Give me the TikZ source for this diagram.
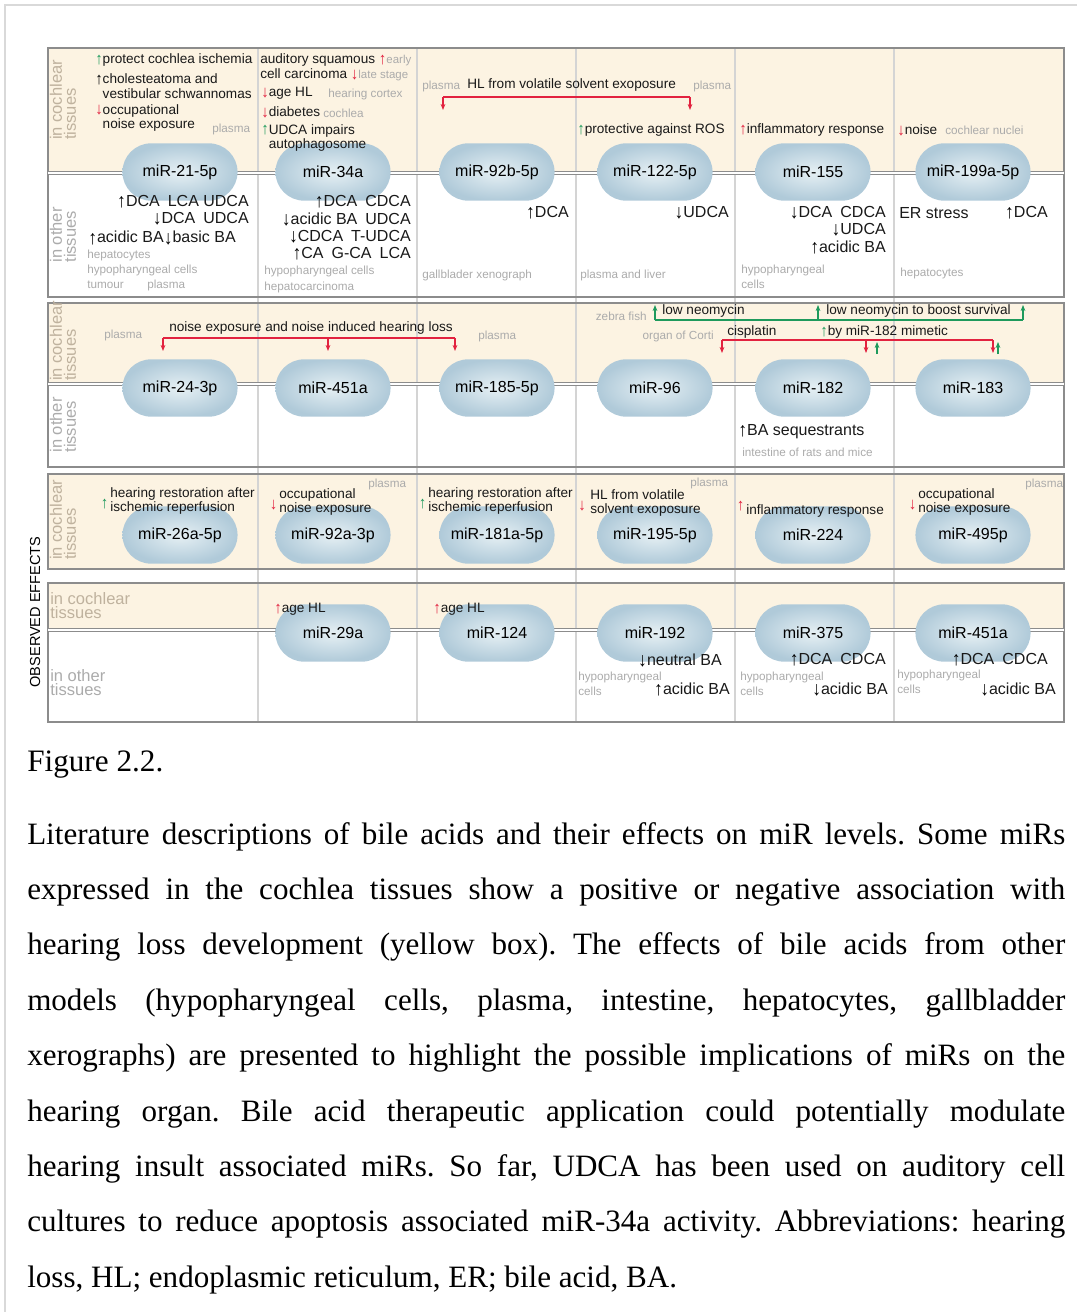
\documentclass[tikz,border=0pt]{standalone}
\usepackage{fontspec}
\setmainfont{Liberation Serif}
\setsansfont{Liberation Sans}
\usepackage{xcolor}
\usepackage{tikz}
\usetikzlibrary{arrows.meta,positioning,shapes.misc}
\definecolor{bandyel}{HTML}{FCF3E2}
\definecolor{frame}{HTML}{8C8C8C}
\definecolor{divid}{HTML}{D4D4D4}
\definecolor{upgrn}{HTML}{1E9A5C}
\definecolor{dnred}{HTML}{E2223F}
\definecolor{note}{HTML}{ABABAB}
\definecolor{tanlab}{HTML}{BFB29E}
\definecolor{pillin}{HTML}{E6F0F4}
\definecolor{pillout}{HTML}{B0CAD9}
\newcommand{\ua}[1][black]{\textcolor{#1}{\raisebox{-0.12ex}{\scalebox{1.1}[1.22]{↑}}}}
\newcommand{\da}[1][black]{\textcolor{#1}{\raisebox{-0.12ex}{\scalebox{1.1}[1.22]{↓}}}}
\newcommand{\srcin}[1]{{\color{note}\fontsize{8.6}{10}\selectfont #1}}

\begin{document}
\begin{tikzpicture}[
  x=0.75pt, y=-0.75pt,
  eff/.style={font=\sffamily\fontsize{10.2}{11.2}\selectfont, inner sep=0pt, align=left, text=black!90},
  ba/.style={font=\sffamily\fontsize{12}{13}\selectfont, inner sep=0pt, text=black!90},
  src/.style={font=\sffamily\fontsize{8.8}{11}\selectfont, inner sep=0pt, align=left, text=note},
  tis/.style={font=\sffamily\fontsize{12.4}{10.6}\selectfont, inner sep=0pt, align=left},
  mir/.style={rounded rectangle, minimum width=93pt, minimum height=43pt, inner color=pillin, outer color=pillout, font=\sffamily\fontsize{12}{14}\selectfont},
  grp/.style={draw=frame, line width=1.1pt},
  sep/.style={draw=frame, line width=0.6pt, double=white, double distance=1.5pt},
  rln/.style={dnred, line width=0.8pt},
  gln/.style={upgrn, line width=0.8pt},
  rarr/.style={rln, -{Stealth[length=4.5pt, width=3.5pt]}},
  garr/.style={gln, -{Stealth[length=4.5pt, width=3.5pt]}}
]
\useasboundingbox (0,0) rectangle (1077,1312);
\draw[black!15, line width=1pt] (5,1312) -- (5,5) -- (1077,5);

\fill[bandyel] (48,48) rectangle (1064,173);
\fill[bandyel] (48,303) rectangle (1064,384);
\fill[bandyel] (48,474) rectangle (1064,569);
\fill[bandyel] (48,583) rectangle (1064,630);
\foreach \x in {258,417,576,735,894}
  \draw[divid, line width=0.8pt] (\x,48) -- (\x,722);
\draw[grp] (48,48) rectangle (1064,297);
\draw[grp] (48,303) rectangle (1064,467);
\draw[grp] (48,474) rectangle (1064,569);
\draw[grp] (48,583) rectangle (1064,722);
\draw[sep] (48,173) -- (1064,173);
\draw[sep] (48,384) -- (1064,384);
\draw[sep] (48,630) -- (1064,630);

\node[font=\sffamily\fontsize{10.9}{12}\selectfont, rotate=90] (obs) at (35,612) {OBSERVED EFFECTS};
\node[tis, text=tanlab, rotate=90] (t1a) at (63,100) {in cochlear\\tissues};
\node[tis, text=note, rotate=90] (t1b) at (63,235) {in other\\tissues};
\node[tis, text=tanlab, rotate=90] (t2a) at (63,341) {in cochlear\\tissues};
\node[tis, text=note, rotate=90] (t2b) at (63,425) {in other\\tissues};
\node[tis, text=tanlab, rotate=90] (t3a) at (63,520) {in cochlear\\tissues};
\node[tis, text=tanlab, anchor=west] (t4a) at (50,606) {in cochlear\\tissues};
\node[tis, text=note, anchor=west] (t4b) at (50,683) {in other\\tissues};

\node[mir] (m21) at (180,172) {miR-21-5p};
\node[mir] (m34) at (333,172) {miR-34a};
\node[mir] (m92b) at (497,172) {miR-92b-5p};
\node[mir] (m122) at (655,172) {miR-122-5p};
\node[mir] (m155) at (813,172) {miR-155};
\node[mir] (m199) at (973,172) {miR-199a-5p};
\node[mir] (m24) at (180,388) {miR-24-3p};
\node[mir] (m451) at (333,388) {miR-451a};
\node[mir] (m185) at (497,388) {miR-185-5p};
\node[mir] (m96) at (655,388) {miR-96};
\node[mir] (m182) at (813,388) {miR-182};
\node[mir] (m183) at (973,388) {miR-183};
\node[mir] (m26) at (180,535) {miR-26a-5p};
\node[mir] (m92a) at (333,535) {miR-92a-3p};
\node[mir] (m181) at (497,535) {miR-181a-5p};
\node[mir] (m195) at (655,535) {miR-195-5p};
\node[mir] (m224) at (813,535) {miR-224};
\node[mir] (m495) at (973,535) {miR-495p};
\node[mir] (m29) at (333,633) {miR-29a};
\node[mir] (m124) at (497,633) {miR-124};
\node[mir] (m192) at (655,633) {miR-192};
\node[mir] (m375) at (813,633) {miR-375};
\node[mir] (m451b) at (973,633) {miR-451a};

\node[eff, anchor=west] (pc) at (95,60) {\ua[upgrn]protect cochlea ischemia};
\node[eff, anchor=west] (ch) at (95,86) {\ua cholesteatoma and\\\hphantom{\ua}vestibular schwannomas};
\node[eff, anchor=west] (on1) at (95,118) {\da[dnred]occupational\\\hphantom{\da}noise exposure};
\node[src, anchor=west] (s1) at (212,129) {plasma};
\node[eff, anchor=west] (asc) at (260,67) {auditory squamous \ua[dnred]\srcin{early}\\cell carcinoma \da[dnred]\srcin{late stage}};
\node[eff, anchor=west] (ahl) at (261,93) {\da[dnred]age HL};
\node[src, anchor=west] (s2) at (328,94) {hearing cortex};
\node[eff, anchor=west] (dia) at (261,112) {\da[dnred]diabetes};
\node[src, anchor=west] (s3) at (323,113) {cochlea};
\node[eff, anchor=west] (udc) at (261,138) {\ua[upgrn]UDCA impairs\\\hphantom{\ua}autophagosome};
\node[src, anchor=west] (s4) at (422,86) {plasma};
\node[eff, anchor=west] (hlv) at (467,85) {HL from volatile solvent exoposure};
\node[src, anchor=west] (s5) at (693,86) {plasma};
\coordinate (hv1) at (443,97);
\coordinate (hv2) at (690,97);
\coordinate (hv1e) at (443,110);
\coordinate (hv2e) at (690,110);
\draw[rln] (hv1) -- (hv2);
\draw[rarr] (hv1) -- (hv1e);
\draw[rarr] (hv2) -- (hv2e);
\node[eff, anchor=west] (ros) at (577,130) {\ua[upgrn]protective against ROS};
\node[eff, anchor=west] (inf1) at (739,130) {\ua[dnred]inflammatory response};
\node[eff, anchor=west] (noi) at (897,130) {\da[dnred]noise};
\node[src, anchor=west] (s6) at (945,130) {cochlear nuclei};

\node[ba, anchor=east, align=right] (a1) at (249,210) {\ua DCA\enspace LCA UDCA\\\da DCA\enspace UDCA};
\node[ba, anchor=west] (a3) at (88,238) {\ua acidic BA\da basic BA};
\node[src, anchor=west] (s7) at (87,255) {hepatocytes};
\node[src, anchor=west] (s8) at (87,270) {hypopharyngeal cells};
\node[src, anchor=west] (s9) at (87,285) {tumour};
\node[src, anchor=west] (s10) at (147,285) {plasma};
\node[ba, anchor=east, align=right] (b1) at (411,228) {\ua DCA\enspace CDCA\\\da acidic BA\enspace UDCA\hspace{3pt}\\\da CDCA\enspace T-UDCA\\\ua CA\enspace G-CA\enspace LCA};
\node[src, anchor=west] (s11) at (264,271) {hypopharyngeal cells};
\node[src, anchor=west] (s12) at (264,287) {hepatocarcinoma};
\node[ba, anchor=east] (c1) at (569,213) {\ua DCA};
\node[src, anchor=west] (s13) at (422,275) {gallblader xenograph};
\node[ba, anchor=east] (d1) at (729,213) {\da UDCA};
\node[src, anchor=west] (s14) at (580,275) {plasma and liver};
\node[ba, anchor=east, align=right] (e1) at (886,230) {\da DCA\enspace CDCA\\\da UDCA\\\ua acidic BA\hspace{2pt}};
\node[src, anchor=west] (s15) at (741,277) {hypopharyngeal\\cells};
\node[ba, anchor=west] (f1) at (899,213) {ER stress};
\node[ba, anchor=east] (f2) at (1048,213) {\ua DCA};
\node[src, anchor=west] (s16) at (900,273) {hepatocytes};

\node[src, anchor=west] (s17) at (104,335) {plasma};
\node[eff, anchor=west] (nx) at (169,328) {noise exposure and noise induced hearing loss};
\coordinate (nx1) at (163,338);
\coordinate (nx2) at (328,338);
\coordinate (nx3) at (455,338);
\coordinate (nx1e) at (163,351);
\coordinate (nx2e) at (328,351);
\coordinate (nx3e) at (455,351);
\draw[rln] (nx1) -- (nx3);
\draw[rarr] (nx1) -- (nx1e);
\draw[rarr] (nx2) -- (nx2e);
\draw[rarr] (nx3) -- (nx3e);
\node[src, anchor=west] (s18) at (478,336) {plasma};
\node[src, anchor=east] (s19) at (647,316) {zebra fish};
\coordinate (zf1) at (655,320);
\coordinate (zf2) at (818,320);
\coordinate (zf3) at (1023,320);
\coordinate (zf1e) at (655,305);
\coordinate (zf2e) at (818,305);
\coordinate (zf3e) at (1023,305);
\draw[gln] (zf1) -- (zf3);
\draw[garr] (zf1) -- (zf1e);
\draw[garr] (zf2) -- (zf2e);
\draw[garr] (zf3) -- (zf3e);
\node[eff, anchor=west] (ln1) at (662,311) {low neomycin};
\node[eff, anchor=west] (ln2) at (826,311) {low neomycin to boost survival};
\node[src, anchor=east] (s20) at (714,336) {organ of Corti};
\node[eff, anchor=west] (cis) at (727,332) {cisplatin};
\node[eff, anchor=west] (mim) at (820,332) {\ua[upgrn]by miR-182 mimetic};
\coordinate (cp1) at (722,340);
\coordinate (cp2) at (866,340);
\coordinate (cp3) at (993,340);
\coordinate (cp1e) at (722,353);
\coordinate (cp2e) at (866,353);
\coordinate (cp3e) at (993,353);
\draw[rln] (cp1) -- (cp3);
\draw[rarr] (cp1) -- (cp1e);
\draw[rarr] (cp2) -- (cp2e);
\draw[rarr] (cp3) -- (cp3e);
\coordinate (mm1) at (877,354);
\coordinate (mm2) at (998,354);
\coordinate (mm1e) at (877,342);
\coordinate (mm2e) at (998,342);
\draw[garr] (mm1) -- (mm1e);
\draw[garr] (mm2) -- (mm2e);
\node[ba, anchor=west] (seq) at (738,432) {\ua BA sequestrants};
\node[src, anchor=west] (s21) at (742,452) {intestine of rats and mice};

\node[eff, anchor=west] (hr1) at (110,501) {hearing restoration after\\ischemic reperfusion};
\node[eff, left=1pt of hr1, yshift=-2pt] (hr1a) {\ua[upgrn]};
\node[eff, anchor=west] (on2) at (279,502) {occupational\\noise exposure};
\node[eff, left=1pt of on2, yshift=-2pt] (on2a) {\da[dnred]};
\node[src, anchor=west] (s22) at (368,484) {plasma};
\node[eff, anchor=west] (hr2) at (428,501) {hearing restoration after\\ischemic reperfusion};
\node[eff, left=1pt of hr2, yshift=-2pt] (hr2a) {\ua[upgrn]};
\node[eff, anchor=west] (hv3) at (590,503) {HL from volatile\\solvent exoposure};
\node[eff, left=3pt of hv3, yshift=-2pt] (hv3a) {\da[dnred]};
\node[src, anchor=west] (s23) at (690,483) {plasma};
\node[eff, anchor=west] (inf2) at (746,511) {inflammatory response};
\node[eff, left=1pt of inf2, yshift=4pt] (inf2a) {\ua[dnred]};
\node[eff, anchor=west] (on3) at (918,502) {occupational\\noise exposure};
\node[eff, left=1pt of on3, yshift=-2pt] (on3a) {\da[dnred]};
\node[src, anchor=west] (s24) at (1025,484) {plasma};

\node[eff, anchor=west] (ag1) at (274,609) {\ua[dnred]age HL};
\node[eff, anchor=west] (ag2) at (433,609) {\ua[dnred]age HL};
\node[ba, anchor=east] (h1) at (722,660) {\da neutral BA};
\node[ba, anchor=east] (h2) at (730,689) {\ua acidic BA};
\node[src, anchor=west] (s25) at (578,684) {hypopharyngeal\\cells};
\node[ba, anchor=east] (i1) at (886,660) {\ua DCA\enspace CDCA};
\node[ba, anchor=east] (i2) at (888,689) {\da acidic BA};
\node[src, anchor=west] (s26) at (740,684) {hypopharyngeal\\cells};
\node[ba, anchor=east] (j1) at (1048,660) {\ua DCA\enspace CDCA};
\node[ba, anchor=east] (j2) at (1056,689) {\da acidic BA};
\node[src, anchor=west] (s27) at (897,682) {hypopharyngeal\\cells};

\node[anchor=base west, inner sep=0pt, font=\fontsize{23.4}{41.5}\selectfont] (fig) at (27,771) {Figure 2.2.};
\node[anchor=base west, inner sep=0pt, text width=778.5pt, align=justify, font=\fontsize{23.3}{41.55}\selectfont] (cap) at (27,844) {\frenchspacing\tolerance=10000\hyphenpenalty=10000 Literature descriptions of bile acids and their effects on miR levels. Some miRs\linebreak
expressed in the cochlea tissues show a positive or negative association with\linebreak
hearing loss development (yellow box). The effects of bile acids from other\linebreak
models (hypopharyngeal cells, plasma, intestine, hepatocytes, gallbladder\linebreak
xerographs) are presented to highlight the possible implications of miRs on the\linebreak
hearing organ. Bile acid therapeutic application could potentially modulate\linebreak
hearing insult associated miRs. So far, UDCA has been used on auditory cell\linebreak
cultures to reduce apoptosis associated miR-34a activity. Abbreviations: hearing\linebreak
loss, HL; endoplasmic reticulum, ER; bile acid, BA.};
\end{tikzpicture}
\end{document}
